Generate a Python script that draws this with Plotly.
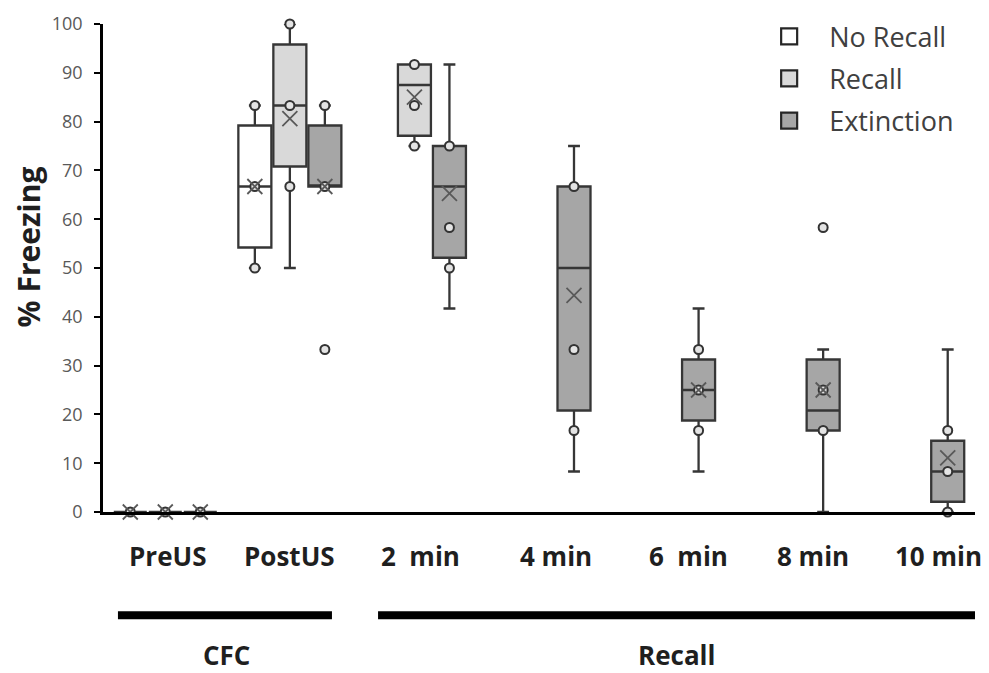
import plotly.graph_objects as go

# ---------------- data ----------------
categories = ["PreUS", "PostUS", "2  min", "4 min", "6  min", "8 min", "10 min"]
group_labels = ["CFC", "Recall"]
series_names = ["No Recall", "Recall", "Extinction"]

# No Recall
norecall_q1 = [0, 54.2, None, None, None, None, None]
norecall_median = [0, 66.7, None, None, None, None, None]
norecall_q3 = [0, 79.2, None, None, None, None, None]
norecall_low = [0, 50.0, None, None, None, None, None]
norecall_high = [0, 83.3, None, None, None, None, None]
norecall_mean = [0, 66.7, None, None, None, None, None]
norecall_points = [[0], [83.3, 66.7, 50.0], [], [], [], [], []]
norecall_outliers = [[], [], [], [], [], [], []]

# Recall
recall_q1 = [0, 70.8, 77.1, None, None, None, None]
recall_median = [0, 83.3, 87.5, None, None, None, None]
recall_q3 = [0, 95.8, 91.7, None, None, None, None]
recall_low = [0, 50.0, 75.0, None, None, None, None]
recall_high = [0, 100.0, 91.7, None, None, None, None]
recall_mean = [0, 80.6, 85.0, None, None, None, None]
recall_points = [[0], [100.0, 83.3, 66.7], [91.7, 83.3, 75.0], [], [], [], []]
recall_outliers = [[], [], [], [], [], [], []]

# Extinction
ext_q1 = [0, 66.7, 52.1, 20.8, 18.75, 16.7, 2.1]
ext_median = [0, 66.7, 66.7, 50.0, 25.0, 20.8, 8.3]
ext_q3 = [0, 79.2, 75.0, 66.7, 31.25, 31.25, 14.6]
ext_low = [0, 66.7, 41.7, 8.3, 8.3, 0.0, 0.0]
ext_high = [0, 83.3, 91.7, 75.0, 41.7, 33.3, 33.3]
ext_mean = [0, 66.7, 65.3, 44.4, 25.0, 25.0, 11.1]
ext_points = [[0], [83.3, 66.7], [75.0, 58.3, 50.0], [66.7, 33.3, 16.7],
              [33.3, 25.0, 16.7], [25.0, 16.7], [16.7, 8.3, 0.0]]
ext_outliers = [[], [33.3], [], [], [], [58.3], []]

# ---------------- style / layout ----------------
FONT = "Open Sans"
fills = ["#ffffff", "#d9d9d9", "#a6a6a6"]
slot_offsets = [-0.281, 0.0, 0.281]
box_width = 0.265
line_col = "#363636"

series = [
    (norecall_q1, norecall_median, norecall_q3, norecall_low, norecall_high,
     norecall_mean, norecall_points, norecall_outliers),
    (recall_q1, recall_median, recall_q3, recall_low, recall_high,
     recall_mean, recall_points, recall_outliers),
    (ext_q1, ext_median, ext_q3, ext_low, ext_high,
     ext_mean, ext_points, ext_outliers),
]

fig = go.Figure()

for si, (q1, med, q3, lo, hi, mean, pts, outl) in enumerate(series):
    idx = [i for i in range(len(categories)) if q1[i] is not None]
    xs = [i + slot_offsets[si] for i in idx]
    fig.add_trace(go.Box(
        x=xs,
        q1=[q1[i] for i in idx],
        median=[med[i] for i in idx],
        q3=[q3[i] for i in idx],
        lowerfence=[lo[i] for i in idx],
        upperfence=[hi[i] for i in idx],
        width=box_width,
        whiskerwidth=0.36,
        fillcolor=fills[si],
        line=dict(color=line_col, width=2.3),
        boxpoints=False,
        showlegend=False,
        hoverinfo="skip",
    ))
    # inner points + outliers
    px, py = [], []
    for i in range(len(categories)):
        for v in pts[i] + outl[i]:
            px.append(i + slot_offsets[si])
            py.append(v)
    fig.add_trace(go.Scatter(
        x=px, y=py, mode="markers", showlegend=False, hoverinfo="skip",
        cliponaxis=False,
        marker=dict(symbol="circle", size=9, color="#e4e4e4",
                    line=dict(color="#333333", width=2)),
    ))
    # means
    fig.add_trace(go.Scatter(
        x=xs, y=[mean[i] for i in idx], mode="markers", showlegend=False,
        hoverinfo="skip", cliponaxis=False,
        marker=dict(symbol="x-thin-open", size=15, color="#595959",
                    line=dict(color="#595959", width=1.8)),
    ))

# legend entries
for si, name in enumerate(series_names):
    fig.add_trace(go.Scatter(
        x=[None], y=[None], mode="markers", name=name, legendgroup=name,
        marker=dict(symbol="square", size=16, color=fills[si],
                    line=dict(color="#262626", width=2.2)),
    ))

# category labels (text boxes under the axis)
label_x = [0.02, 1.0, 2.05, 3.14, 4.20, 5.20, 6.21]
annotations = []
for lab, lx in zip(categories, label_x):
    annotations.append(dict(
        x=lx, xref="x", y=-0.0903, yref="paper", text=lab.replace("  ", " \u00a0"),
        showarrow=False, xanchor="center", yanchor="middle",
        font=dict(family=FONT, size=26, color="#1f1f1f", weight="bold"),
    ))
group_x = [0.495, 4.10]
for lab, gx in zip(group_labels, group_x):
    annotations.append(dict(
        x=gx, xref="x", y=-0.293, yref="paper", text=lab, borderpad=0,
        showarrow=False, xanchor="center", yanchor="middle",
        font=dict(family=FONT, size=26, color="#1f1f1f", weight="bold"),
    ))
annotations.append(dict(
    x=-0.085, xref="paper", y=0.544, yref="paper", text="% Freezing",
    textangle=-90, showarrow=False, xanchor="center", yanchor="middle",
    font=dict(family=FONT, size=30, color="#1f1f1f", weight="bold"),
))

group_spans = [(-0.380, 1.338), (1.708, 6.564)]
shapes = []
for x0, x1 in group_spans:
    shapes.append(dict(type="line", xref="x", yref="paper", x0=x0, x1=x1,
                       y0=-0.2115, y1=-0.2115,
                       line=dict(color="#000000", width=8)))

# the page body has an 8px margin, so the figure is sized to fit the window
fig.update_layout(
    width=981, height=665,
    margin=dict(l=95, r=14, t=16, b=161, autoexpand=False),
    paper_bgcolor="white", plot_bgcolor="white",
    boxmode="overlay",
    showlegend=True,
    legend=dict(x=0.741, y=1.024, xanchor="left", yanchor="top",
                font=dict(family=FONT, size=27, color="#404040"),
                itemwidth=70, tracegroupgap=4, bgcolor="rgba(0,0,0,0)"),
    xaxis=dict(range=[-0.5, 6.5], showline=True, linecolor="#000000",
               linewidth=3, showticklabels=False, ticks="", showgrid=False,
               zeroline=False),
    yaxis=dict(range=[0, 100], dtick=10, showline=True, linecolor="#000000",
               linewidth=2.5, ticks="outside", ticklen=6, tickwidth=2,
               tickcolor="#000000", showgrid=False, zeroline=False,
               ticklabelstandoff=8,
               tickfont=dict(family=FONT, size=18, color="#595959")),
    annotations=annotations,
    shapes=shapes,
    font=dict(family=FONT),
)

fig.write_html("out.html")
